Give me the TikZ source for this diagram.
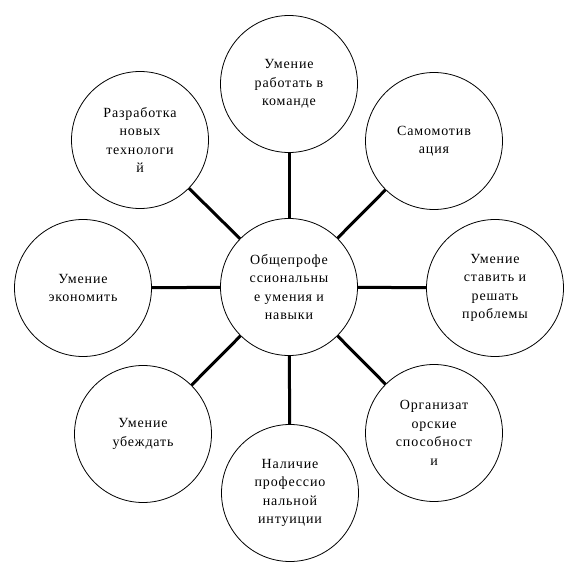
\documentclass[tikz,border=0pt]{standalone}
\usepackage{fontspec}
\setmainfont{Liberation Serif}[LetterSpace=6]
\begin{document}
\begin{tikzpicture}[x=1pt,y=-1pt,
  bub/.style={circle,draw,line width=0.8pt,minimum size=137pt,inner sep=0pt,
    align=center,font=\fontsize{14}{18.5}\selectfont},
  link/.style={line width=3pt}]
\useasboundingbox (0,0) rectangle (577,577);
\node[bub] (c) at (289,287) {Общепрофе\\ссиональны\\е умения и\\навыки};
\node[bub] (n) at (289,84) {Умение\\работать в\\команде};
\node[bub] (ne) at (434,141) {Самомотив\\ация};
\node[bub] (e) at (495,288) {Умение\\ставить и\\решать\\проблемы};
\node[bub] (se) at (434,433) {Организат\\орские\\способност\\и};
\node[bub] (s) at (290,493) {Наличие\\профессио\\нальной\\интуиции};
\node[bub] (sw) at (143,434) {Умение\\убеждать};
\node[bub] (w) at (83,288) {Умение\\экономить};
\node[bub] (nw) at (140,140) {Разработка\\новых\\технологи\\й};
\foreach \t in {n,ne,e,se,s,sw,w,nw} \draw[link] (c) -- (\t);
\end{tikzpicture}
\end{document}
